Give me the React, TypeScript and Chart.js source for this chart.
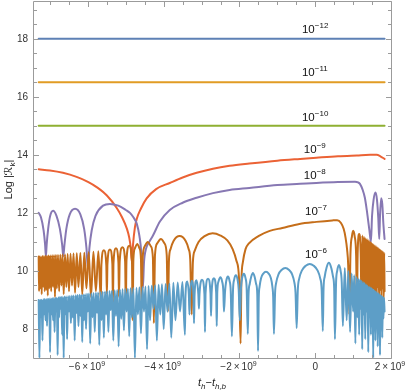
import React, { useEffect, useRef } from "react";
import { Chart, registerables } from "chart.js";
Chart.register(...registerables);

// x values in units of 1e9 (t_h - t_{h,b}), y = Log|R_k|
const series12: number[][] = [[-7.3, 18.0], [1.83, 18.0]];
const series11: number[][] = [[-7.3, 16.5], [1.83, 16.5]];
const series10: number[][] = [[-7.3, 15.0], [1.83, 15.0]];

const series9: number[][] = [
  [-7.30, 13.5], [-7.0, 13.46], [-6.66, 13.38], [-6.3, 13.24], [-6.0, 13.07], [-5.76, 12.88], [-5.5, 12.6],
  [-5.24, 12.17], [-5.1, 11.85], [-4.97, 11.45], [-4.91, 11.15], [-4.87, 10.8], [-4.84, 10.3], [-4.81, 10.9],
  [-4.76, 11.5], [-4.71, 11.8], [-4.6, 12.15], [-4.45, 12.5], [-4.2, 12.82], [-3.84, 13.03], [-3.5, 13.22],
  [-3.13, 13.38], [-2.7, 13.52], [-2.26, 13.62], [-1.74, 13.7], [-1.0, 13.8], [-0.4, 13.86], [0.03, 13.9],
  [0.6, 13.95], [1.1, 13.98], [1.45, 14.0], [1.62, 14.0], [1.72, 13.95], [1.83, 13.86]
];

const series8: number[][] = [
  [-7.30, 12.0], [-7.24, 11.85], [-7.17, 11.4], [-7.13, 10.9], [-7.11, 10.5], [-7.09, 10.9], [-7.05, 11.45],
  [-7.0, 11.88], [-6.92, 12.07], [-6.83, 11.9], [-6.74, 11.45], [-6.68, 10.9], [-6.65, 10.5], [-6.62, 10.9],
  [-6.57, 11.45], [-6.48, 11.95], [-6.34, 12.14], [-6.2, 11.95], [-6.1, 11.45], [-6.04, 10.8], [-6.0, 10.1],
  [-5.96, 10.8], [-5.9, 11.4], [-5.8, 11.9], [-5.6, 12.25], [-5.42, 12.31], [-5.2, 12.25], [-5.0, 12.1],
  [-4.89, 12.0], [-4.80, 11.85], [-4.71, 11.62], [-4.64, 11.2], [-4.59, 10.6], [-4.55, 9.4], [-4.52, 10.3],
  [-4.47, 10.75], [-4.38, 11.0], [-4.29, 11.2], [-4.1, 11.7], [-3.84, 12.1], [-3.5, 12.35], [-3.13, 12.52],
  [-2.7, 12.68], [-2.26, 12.79], [-1.74, 12.86], [-1.0, 12.96], [-0.4, 13.0], [0.03, 13.03], [0.6, 13.06],
  [1.05, 13.07], [1.13, 13.05], [1.18, 13.0], [1.25, 12.8], [1.31, 12.52], [1.36, 12.1], [1.39, 11.8],
  [1.43, 11.4], [1.47, 11.0], [1.50, 11.9], [1.54, 12.45], [1.59, 12.7], [1.63, 12.45], [1.665, 11.8],
  [1.69, 11.1], [1.71, 11.9], [1.74, 12.5], [1.77, 12.3], [1.80, 11.6], [1.83, 11.1]
];

const series7: number[][] = [
  [-7.30, 10.5], [-7.29, 9.3], [-7.275, 10.5],
  [-7.26, 9.4], [-7.24, 10.5],
  [-7.22, 9.2], [-7.20, 10.51],
  [-7.18, 9.45], [-7.16, 10.51],
  [-7.14, 9.3], [-7.12, 10.52],
  [-7.10, 9.35], [-7.08, 10.52],
  [-7.06, 9.15], [-7.04, 10.53],
  [-7.02, 9.4], [-6.995, 10.53],
  [-6.97, 9.3], [-6.945, 10.54],
  [-6.92, 9.45], [-6.895, 10.54],
  [-6.87, 9.1], [-6.845, 10.55],
  [-6.82, 9.4], [-6.79, 10.55],
  [-6.76, 9.3], [-6.73, 10.56],
  [-6.70, 9.5], [-6.67, 10.57],
  [-6.64, 9.2], [-6.605, 10.57],
  [-6.57, 9.45], [-6.535, 10.58],
  [-6.50, 9.3], [-6.46, 10.59],
  [-6.42, 9.5], [-6.38, 10.60],
  [-6.34, 9.25], [-6.295, 10.61],
  [-6.25, 9.45], [-6.20, 10.62],
  [-6.15, 9.2], [-6.095, 10.63],
  [-6.04, 9.4], [-5.98, 10.64],
  [-5.92, 9.1], [-5.855, 10.66],
  [-5.79, 9.3], [-5.725, 10.68],
  [-5.66, 9.0], [-5.645, 10.2], [-5.58, 10.71], [-5.515, 10.2],
  [-5.50, 9.2], [-5.485, 10.24], [-5.42, 10.74], [-5.355, 10.24],
  [-5.34, 8.9], [-5.325, 10.28], [-5.26, 10.78], [-5.195, 10.28],
  [-5.18, 9.1], [-5.162, 10.32], [-5.09, 10.82], [-5.018, 10.32],
  [-5.00, 8.8], [-4.982, 10.37], [-4.91, 10.87], [-4.838, 10.37],
  [-4.82, 8.3], [-4.80, 10.4], [-4.76, 10.78], [-4.70, 10.93], [-4.64, 10.78], [-4.60, 10.4],
  [-4.58, 8.7], [-4.555, 10.45], [-4.50, 10.85], [-4.42, 11.0], [-4.34, 10.85], [-4.285, 10.45],
  [-4.26, 8.2], [-4.23, 10.55], [-4.17, 10.95], [-4.075, 11.1], [-3.98, 10.95], [-3.92, 10.55],
  [-3.89, 8.6], [-3.86, 10.4], [-3.82, 10.75], [-3.74, 11.03], [-3.58, 11.2], [-3.42, 11.03], [-3.34, 10.75], [-3.30, 10.4],
  [-3.26, 8.5], [-3.23, 10.3], [-3.18, 10.7], [-3.08, 11.0], [-2.92, 11.2], [-2.71, 11.3], [-2.50, 11.22],
  [-2.32, 11.05], [-2.18, 10.75], [-2.08, 10.35], [-2.01, 9.7],
  [-1.97, 7.5], [-1.95, 9.6], [-1.91, 10.3], [-1.84, 10.75], [-1.75, 10.95], [-1.5, 11.2], [-1.2, 11.38],
  [-0.87, 11.48], [-0.42, 11.62], [0.03, 11.69], [0.45, 11.74], [0.58, 11.75], [0.68, 11.65], [0.75, 11.45],
  [0.80, 11.15], [0.84, 10.75], [0.87, 10.2],
  [0.90, 8.5], [0.93, 10.6], [0.97, 11.2], [1.0, 11.38], [1.04, 11.2], [1.08, 10.5],
  [1.10, 8.8], [1.12, 10.6], [1.16, 11.27], [1.20, 10.6],
  [1.22, 9.0], [1.245, 11.22],
  [1.27, 9.3], [1.29, 11.17],
  [1.31, 8.9], [1.33, 11.13],
  [1.35, 9.4], [1.37, 11.09],
  [1.385, 9.1], [1.40, 11.06],
  [1.415, 9.35], [1.43, 11.03],
  [1.445, 8.8], [1.46, 11.0],
  [1.475, 9.3], [1.49, 10.97],
  [1.505, 9.05], [1.52, 10.93],
  [1.535, 9.4], [1.55, 10.9],
  [1.565, 8.9], [1.58, 10.87],
  [1.595, 9.3], [1.61, 10.84],
  [1.625, 9.15], [1.64, 10.81],
  [1.655, 9.45], [1.67, 10.78],
  [1.685, 9.0], [1.70, 10.75],
  [1.715, 9.35], [1.73, 10.72],
  [1.745, 9.1], [1.76, 10.69],
  [1.775, 9.4], [1.79, 10.66],
  [1.805, 8.9], [1.82, 10.62], [1.83, 9.3]
];

const series6: number[][] = [
  [-7.30, 9.0], [-7.28, 7.0], [-7.26, 9.01],
  [-7.24, 8.4], [-7.22, 9.01],
  [-7.20, 7.6], [-7.18, 9.02],
  [-7.16, 8.5], [-7.14, 9.03],
  [-7.12, 8.3], [-7.10, 9.03],
  [-7.08, 8.1], [-7.06, 9.04],
  [-7.04, 8.6], [-7.02, 9.05],
  [-7.00, 7.2], [-6.98, 9.05],
  [-6.96, 8.5], [-6.94, 9.06],
  [-6.92, 8.3], [-6.90, 9.07],
  [-6.88, 7.9], [-6.86, 9.07],
  [-6.84, 8.6], [-6.82, 9.08],
  [-6.80, 7.1], [-6.78, 9.09],
  [-6.76, 8.4], [-6.74, 9.10],
  [-6.72, 8.7], [-6.70, 9.10],
  [-6.68, 7.8], [-6.66, 9.11],
  [-6.64, 7.0], [-6.62, 9.12],
  [-6.60, 8.5], [-6.575, 9.12],
  [-6.55, 7.65], [-6.525, 9.13],
  [-6.50, 8.6], [-6.475, 9.14],
  [-6.45, 8.2], [-6.425, 9.15],
  [-6.40, 8.4], [-6.375, 9.15],
  [-6.35, 7.6], [-6.325, 9.16],
  [-6.30, 8.55], [-6.275, 9.17],
  [-6.25, 8.1], [-6.225, 9.18],
  [-6.20, 8.45], [-6.175, 9.18],
  [-6.15, 7.55], [-6.125, 9.19],
  [-6.10, 8.3], [-6.075, 9.20],
  [-6.05, 8.0], [-6.025, 9.21],
  [-6.00, 8.6], [-5.97, 9.22],
  [-5.94, 7.5], [-5.91, 9.23],
  [-5.88, 8.4], [-5.85, 9.24],
  [-5.82, 7.9], [-5.79, 9.25],
  [-5.76, 8.55], [-5.73, 9.26],
  [-5.70, 7.45], [-5.67, 9.27],
  [-5.64, 8.3], [-5.61, 9.28],
  [-5.58, 7.7], [-5.55, 9.29],
  [-5.52, 8.5], [-5.49, 9.30],
  [-5.46, 7.9], [-5.43, 9.31],
  [-5.40, 8.65], [-5.365, 9.32],
  [-5.33, 7.6], [-5.295, 9.33],
  [-5.26, 8.45], [-5.225, 9.34],
  [-5.19, 7.4], [-5.155, 9.35],
  [-5.12, 8.35], [-5.085, 9.37],
  [-5.05, 7.95], [-5.015, 9.38],
  [-4.98, 8.6], [-4.945, 9.39],
  [-4.91, 7.75], [-4.875, 9.40],
  [-4.84, 8.4], [-4.80, 9.41],
  [-4.76, 7.0], [-4.72, 9.42],
  [-4.68, 8.5], [-4.64, 9.44],
  [-4.60, 7.85], [-4.56, 9.45],
  [-4.52, 8.6], [-4.48, 9.46],
  [-4.44, 7.3], [-4.40, 9.48],
  [-4.36, 8.3], [-4.315, 9.49],
  [-4.27, 8.7], [-4.225, 9.51],
  [-4.18, 7.6], [-4.135, 9.52],
  [-4.09, 8.5], [-4.045, 9.54],
  [-4.00, 8.0], [-3.95, 9.55],
  [-3.90, 8.6], [-3.85, 9.57],
  [-3.80, 7.7], [-3.745, 9.59],
  [-3.69, 8.3], [-3.63, 9.60],
  [-3.57, 8.6], [-3.505, 9.62],
  [-3.44, 7.8], [-3.425, 9.14], [-3.38, 9.64], [-3.335, 9.14],
  [-3.32, 8.5], [-3.305, 9.16], [-3.26, 9.66], [-3.215, 9.16],
  [-3.20, 8.2], [-3.185, 9.18], [-3.135, 9.68], [-3.085, 9.18],
  [-3.07, 8.7], [-3.055, 9.2], [-2.99, 9.70], [-2.925, 9.2],
  [-2.91, 7.9], [-2.895, 9.23], [-2.83, 9.73], [-2.765, 9.23],
  [-2.75, 8.45], [-2.735, 9.25], [-2.675, 9.75], [-2.615, 9.25],
  [-2.60, 8.1], [-2.585, 9.28], [-2.55, 9.65], [-2.505, 9.78], [-2.46, 9.65], [-2.425, 9.28],
  [-2.41, 8.6], [-2.38, 9.3], [-2.35, 9.65], [-2.305, 9.81], [-2.26, 9.65], [-2.23, 9.3],
  [-2.20, 7.75], [-2.17, 9.35], [-2.14, 9.7], [-2.095, 9.85], [-2.05, 9.7], [-2.02, 9.35],
  [-1.99, 8.3], [-1.96, 9.4], [-1.93, 9.75], [-1.885, 9.9], [-1.84, 9.75], [-1.81, 9.4],
  [-1.78, 7.83], [-1.76, 9.2], [-1.73, 9.55], [-1.69, 9.8], [-1.645, 9.93], [-1.60, 9.8], [-1.56, 9.55], [-1.53, 9.2],
  [-1.51, 7.24], [-1.49, 9.1], [-1.47, 9.45], [-1.43, 9.75], [-1.37, 9.91], [-1.30, 9.97], [-1.23, 9.91],
  [-1.17, 9.75], [-1.13, 9.45], [-1.11, 9.1],
  [-1.09, 7.83], [-1.06, 9.25], [-1.03, 9.6], [-0.97, 9.88], [-0.89, 10.03], [-0.79, 10.1], [-0.69, 10.03],
  [-0.61, 9.88], [-0.55, 9.6], [-0.52, 9.25],
  [-0.49, 8.03], [-0.46, 9.35], [-0.42, 9.75], [-0.35, 10.02], [-0.25, 10.18], [-0.145, 10.24], [-0.04, 10.18],
  [0.06, 10.02], [0.13, 9.75], [0.17, 9.35],
  [0.20, 7.93], [0.22, 9.4], [0.25, 9.8], [0.30, 10.12], [0.36, 10.28], [0.42, 10.12], [0.47, 9.8], [0.50, 9.4],
  [0.52, 7.65], [0.55, 9.6], [0.58, 10.0], [0.625, 10.2], [0.67, 10.0], [0.70, 9.6],
  [0.73, 8.1], [0.78, 10.1],
  [0.83, 8.3], [0.875, 10.0],
  [0.92, 7.9], [0.96, 9.91],
  [1.00, 8.6], [1.03, 9.85],
  [1.06, 7.5], [1.085, 9.79],
  [1.11, 8.4], [1.135, 9.74],
  [1.16, 7.8], [1.18, 9.70],
  [1.20, 8.7], [1.22, 9.66],
  [1.24, 7.3], [1.26, 9.62],
  [1.28, 8.5], [1.30, 9.58],
  [1.32, 7.65], [1.34, 9.54],
  [1.36, 8.6], [1.38, 9.50],
  [1.40, 7.2], [1.42, 9.46],
  [1.44, 8.4], [1.455, 9.43],
  [1.47, 7.8], [1.485, 9.41],
  [1.50, 8.5], [1.515, 9.38],
  [1.53, 7.0], [1.545, 9.35],
  [1.56, 8.4], [1.575, 9.32],
  [1.59, 7.6], [1.605, 9.29],
  [1.62, 8.3], [1.635, 9.26],
  [1.65, 7.4], [1.665, 9.23],
  [1.68, 8.5], [1.695, 9.20],
  [1.71, 7.1], [1.725, 9.17],
  [1.74, 8.3], [1.755, 9.14],
  [1.77, 7.7], [1.785, 9.11],
  [1.80, 8.35], [1.815, 9.07], [1.83, 8.6]
];

const curveExponents = ["−12", "−11", "−10", "−9", "−8", "−7", "−6"];
const labelX = [-0.35, -0.35, -0.35, -0.30, -0.30, -0.27, -0.27];
const labelY = [18.2, 16.72, 15.17, 14.07, 13.17, 11.93, 10.43];

const xMajorTicks = [-6, -4, -2, 0, 2];
const xMajorLabels = ["−6", "−4", "−2", "0", "2"];
const xMinorTicks = [-7, -6.5, -5.5, -5, -4.5, -3.5, -3, -2.5, -1.5, -1, -0.5, 0.5, 1, 1.5];
const yMajorTicks = [8, 10, 12, 14, 16, 18];
const yMinorTicks = [7.5, 8.5, 9, 9.5, 10.5, 11, 11.5, 12.5, 13, 13.5, 14.5, 15, 15.5, 16.5, 17, 17.5, 18.5, 19];

const COLORS = {
  c12: "#5E81B5", c11: "#E19C24", c10: "#8FB032", c9: "#EB6235",
  c8: "#8778B3", c7: "#C56E1A", c6: "#5D9EC7",
};

const FONT = "'Liberation Sans', Arial, 'DejaVu Sans', sans-serif";

function drawParts(ctx: CanvasRenderingContext2D, parts: { t: string; f: string; dy: number }[], x: number, y: number, align: string) {
  let total = 0;
  const widths = parts.map((p) => { ctx.font = p.f; const w = ctx.measureText(p.t).width; total += w; return w; });
  let cx = x;
  if (align === "center") cx = x - total / 2;
  else if (align === "right") cx = x - total;
  ctx.textAlign = "left";
  ctx.textBaseline = "alphabetic";
  parts.forEach((p, i) => { ctx.font = p.f; ctx.fillText(p.t, cx, y + p.dy); cx += widths[i]; });
}

const framePlugin = {
  id: "mmaFrame",
  afterDatasetsDraw(chart: any) {
    const { ctx, chartArea: a, scales } = chart;
    const xs = scales.x, ys = scales.y;
    ctx.save();
    ctx.strokeStyle = "#9b9b9b";
    ctx.lineWidth = 1;
    const L = Math.round(a.left) + 0.5, R = Math.round(a.right) + 0.5;
    const T = Math.round(a.top) + 0.5, B = Math.round(a.bottom) + 0.5;
    ctx.beginPath();
    ctx.rect(L, T, R - L, B - T);
    ctx.stroke();
    ctx.beginPath();
    const xt = (v: number, len: number) => {
      const p = Math.round(xs.getPixelForValue(v)) + 0.5;
      ctx.moveTo(p, B); ctx.lineTo(p, B - len);
      ctx.moveTo(p, T); ctx.lineTo(p, T + len);
    };
    const yt = (v: number, len: number) => {
      const p = Math.round(ys.getPixelForValue(v)) + 0.5;
      ctx.moveTo(L, p); ctx.lineTo(L + len, p);
      ctx.moveTo(R, p); ctx.lineTo(R - len, p);
    };
    xMajorTicks.forEach((v) => xt(v, 5.5));
    xMinorTicks.forEach((v) => xt(v, 3.5));
    yMajorTicks.forEach((v) => yt(v, 5.5));
    yMinorTicks.forEach((v) => yt(v, 3.5));
    ctx.stroke();

    // tick labels
    ctx.fillStyle = "#333333";
    const base = `10px ${FONT}`;
    const sup = `7px ${FONT}`;
    xMajorTicks.forEach((v, i) => {
      const p = xs.getPixelForValue(v);
      if (v === 0) {
        drawParts(ctx, [{ t: "0", f: base, dy: 0 }], p, 370, "center");
      } else {
        drawParts(ctx, [
          { t: xMajorLabels[i] + "\u2009×\u200910", f: base, dy: 0 },
          { t: "9", f: sup, dy: -4 },
        ], p - 1, 370, "center");
      }
    });
    yMajorTicks.forEach((v) => {
      const p = ys.getPixelForValue(v);
      drawParts(ctx, [{ t: String(v), f: base, dy: 0 }], 28, p + 3.5, "right");
    });

    // axis titles
    ctx.fillStyle = "#222222";
    const it = `italic 11px ${FONT}`;
    const itS = `italic 8px ${FONT}`;
    drawParts(ctx, [
      { t: "t", f: it, dy: 0 },
      { t: "h", f: itS, dy: 2.5 },
      { t: "−", f: `11px ${FONT}`, dy: 0 },
      { t: "t", f: it, dy: 0 },
      { t: "h,b", f: itS, dy: 2.5 },
    ], (a.left + a.right) / 2, 386, "center");

    ctx.save();
    ctx.translate(12, (a.top + a.bottom) / 2);
    ctx.rotate(-Math.PI / 2);
    drawParts(ctx, [
      { t: "Log |", f: `11px ${FONT}`, dy: 0 },
      { t: "ℛ", f: `11px ${FONT}`, dy: 0 },
      { t: "k", f: `8px ${FONT}`, dy: 2.5 },
      { t: "|", f: `11px ${FONT}`, dy: 0 },
    ], 0, 0, "center");
    ctx.restore();

    // curve labels
    ctx.fillStyle = "#111111";
    curveExponents.forEach((e, i) => {
      const px = xs.getPixelForValue(labelX[i]);
      const py = ys.getPixelForValue(labelY[i]);
      drawParts(ctx, [
        { t: "10", f: `11.5px ${FONT}`, dy: 0 },
        { t: e, f: `8px ${FONT}`, dy: -5 },
      ], px, py, "left");
    });
    ctx.restore();
  },
};

function ds(data: number[][], color: string, curved: boolean) {
  return {
    data,
    borderColor: color,
    backgroundColor: color,
    borderWidth: 2,
    pointRadius: 0,
    fill: false,
    tension: 0,
    cubicInterpolationMode: curved ? "monotone" : "default",
    borderJoinStyle: "round",
    borderCapStyle: "round",
  };
}

export default function App() {
  const ref = useRef<HTMLCanvasElement>(null);
  useEffect(() => {
    if (!ref.current) return;
    const chart = new Chart(ref.current, {
      type: "line",
      data: {
        datasets: [
          ds(series6, COLORS.c6, true),
          ds(series7, COLORS.c7, true),
          ds(series8, COLORS.c8, true),
          ds(series9, COLORS.c9, true),
          ds(series10, COLORS.c10, false),
          ds(series11, COLORS.c11, false),
          ds(series12, COLORS.c12, false),
        ] as any,
      },
      options: {
        responsive: false,
        animation: false,
        devicePixelRatio: 1,
        layout: { padding: { left: 33, right: 16, top: 1, bottom: 33 } },
        plugins: { legend: { display: false }, tooltip: { enabled: false } },
        scales: {
          x: { type: "linear", min: -7.45, max: 2.0, display: false },
          y: { type: "linear", min: 7, max: 19.3, display: false },
        },
      } as any,
      plugins: [framePlugin],
    });
    return () => chart.destroy();
  }, []);
  return (
    <div style={{ position: "absolute", left: 0, top: 0, width: 407, height: 391, background: "#fff" }}>
      <canvas ref={ref} width={407} height={391} style={{ display: "block", width: 407, height: 391 }} />
    </div>
  );
}
